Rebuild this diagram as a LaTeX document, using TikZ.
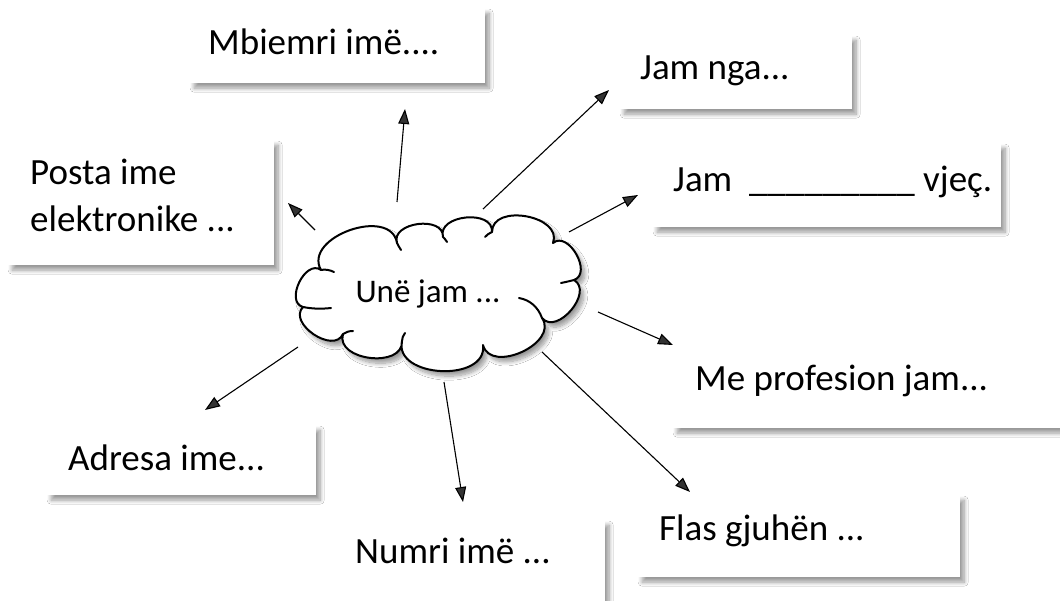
\documentclass[tikz,border=0pt]{standalone}
\usepackage{fontspec}
\setmainfont{Carlito}
\usetikzlibrary{shadows.blur,calc,arrows.meta}
\begin{document}
\begin{tikzpicture}[x=1pt,y=-1pt,
  shad/.style={blur shadow={shadow xshift=4pt,shadow yshift=-5pt,shadow blur radius=4pt,shadow blur steps=10,shadow opacity=40}},
  card/.style={rectangle,fill=white,draw=none,inner sep=0pt,anchor=north west,shad},
  lbl/.style={anchor=base west,inner sep=0pt,font=\fontsize{37}{44}\selectfont},
  arr/.style={line width=1.1pt,-{Triangle[length=15pt,width=11pt]}},
  puff/.style={bend left=100,looseness=1.2},
  cloudline/.style={line width=2pt,line cap=round,line join=round}]
\useasboundingbox (0,0) rectangle (1060,601);
\fill[white] (0,0) rectangle (1060,601);
% boxes
\node[card,minimum width=295pt,minimum height=75pt] (mbbox) at (190,8) {};
\node[card,minimum width=232pt,minimum height=74pt] (ngabox) at (620,35) {};
\node[card,minimum width=348pt,minimum height=84pt] (vjecbox) at (653,143) {};
\node[card,minimum width=266pt,minimum height=125pt] (postabox) at (8,140) {};
\node[card,minimum width=400pt,minimum height=82pt] (profbox) at (673,346) {};
\node[card,minimum width=269pt,minimum height=70pt] (adrbox) at (47,425) {};
\node[card,minimum width=262pt,minimum height=100pt] (numbox) at (343,520) {};
\node[card,minimum width=322pt,minimum height=82pt] (flasbox) at (638,495) {};
% texts
\node[lbl] (mb) at ($(mbbox.north west)+(18,47)$) {Mbiemri imë....};
\node[lbl] (nga) at ($(ngabox.north west)+(20,45)$) {Jam nga...};
\node[lbl] (vjec) at ($(vjecbox.north west)+(20,49)$) {Jam\ \ \_\_\_\_\_\_\_\_\_ vjeç.};
\node[lbl] (posta1) at ($(postabox.north west)+(22,45)$) {Posta ime};
\node[lbl] (posta2) at ($(postabox.north west)+(22,92)$) {elektronike ...};
\node[lbl] (prof) at ($(profbox.north west)+(22,45)$) {Me profesion jam...};
\node[lbl] (adr) at ($(adrbox.north west)+(21,45)$) {Adresa ime...};
\node[lbl] (num) at ($(numbox.north west)+(12,43)$) {Numri imë ...};
\node[lbl] (flas) at ($(flasbox.north west)+(21,45)$) {Flas gjuhën ...};
% cloud outline
\coordinate (j1) at (321,270);
\coordinate (j2) at (397,243);
\coordinate (j3) at (443,237);
\coordinate (j4) at (492,232);
\coordinate (j5) at (553,243);
\coordinate (j6) at (574,280);
\coordinate (j7) at (542,318);
\coordinate (j8) at (483,345);
\coordinate (j9) at (402,341);
\coordinate (j10) at (343,334);
\coordinate (j11) at (303,307);
\path[cloudline,draw=black,fill=white,shad]
  (j1) to[puff] (j2) to[puff] (j3) to[puff] (j4) to[puff] (j5) to[puff] (j6)
  to[puff] (j7) to[puff] (j8) to[puff] (j9) to[puff] (j10) to[puff] (j11)
  to[puff] cycle;
% inner puff arcs
\draw[cloudline] (j1) .. controls (325,269) and (330,270) .. (334,272);
\draw[cloudline] (j2) .. controls (398,245) and (399,247) .. (401,250);
\draw[cloudline] (j3) .. controls (444,238) and (446,240) .. (447,242);
\draw[cloudline] (j4) .. controls (489,233) and (487,235) .. (485,237);
\draw[cloudline] (j6) .. controls (570,281) and (566,282) .. (561,283);
\draw[cloudline] (j7) .. controls (538,307) and (530,300) .. (519,298);
\draw[cloudline] (j9) .. controls (402,338) and (403,336) .. (405,333);
\draw[cloudline] (j10) .. controls (346,332) and (349,331) .. (353,331);
\draw[cloudline] (j11) .. controls (313,309) and (322,309) .. (331,308);
\node[anchor=base,inner sep=0pt,font=\fontsize{33}{40}\selectfont] (cloudtxt) at (428,303) {Unë jam ...};
% arrow ends
\coordinate (t1) at (397,202); \coordinate (h1) at (405,109);
\coordinate (t2) at (483,209); \coordinate (h2) at (609,90);
\coordinate (t3) at (569,232); \coordinate (h3) at (638,195);
\coordinate (t4) at (315,230); \coordinate (h4) at (288,203);
\coordinate (t5) at (598,312); \coordinate (h5) at (673,345);
\coordinate (t6) at (298,347); \coordinate (h6) at (205,410);
\coordinate (t7) at (444,382); \coordinate (h7) at (463,502);
\coordinate (t8) at (542,352); \coordinate (h8) at (690,492);
\foreach \i in {1,...,8} {\draw[arr] (t\i) -- (h\i);}
\end{tikzpicture}
\end{document}
